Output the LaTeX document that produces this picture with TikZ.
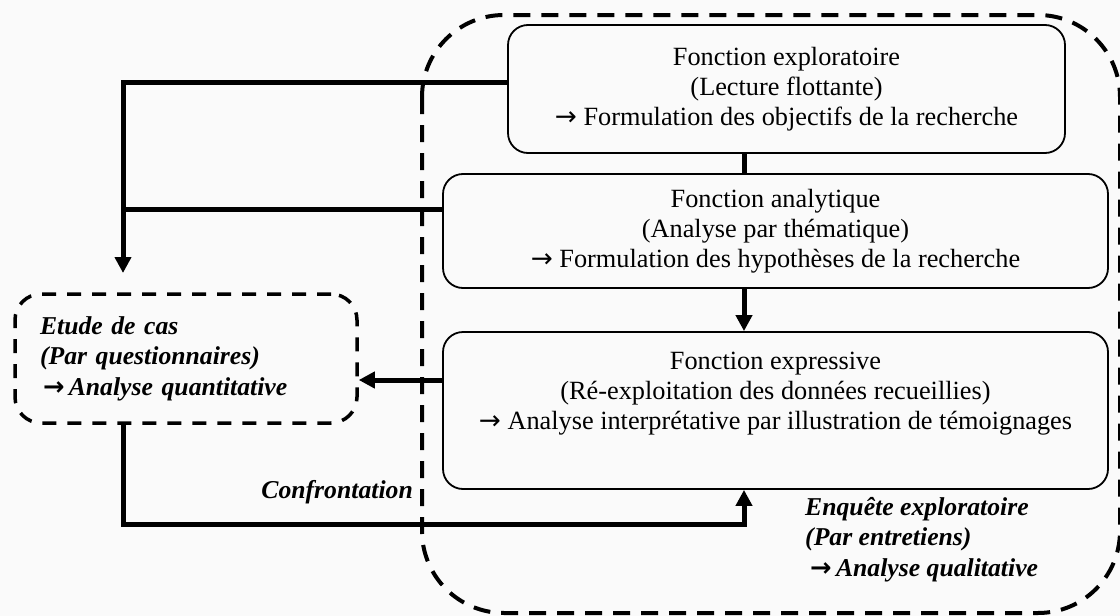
\documentclass[tikz,border=0pt]{standalone}
\usepackage{fontspec}
\setmainfont{Liberation Serif}
\newfontfamily\symfont{DejaVu Sans}
\newcommand{\rarr}{{\symfont →}}
\newcommand{\brarr}{{\symfont\bfseries\upshape →}}
\usetikzlibrary{arrows.meta}
\tikzset{
  txt/.style={font=\fontsize{26.3}{30}\selectfont},
  bitxt/.style={font=\fontsize{25.7}{30.5}\selectfont\bfseries\itshape},
  fbox/.style={txt, draw, line width=1.8pt, rounded corners=20pt, align=center, inner sep=0pt},
  cbox/.style={bitxt, draw, line width=3.5pt, dash pattern=on 14pt off 11pt, rounded corners=26pt,
     align=left, inner xsep=25pt, inner ysep=0pt, text width=292pt, minimum width=342pt, minimum height=129pt},
  bigdash/.style={draw, line width=4pt, dash pattern=on 17pt off 11pt},
  conn/.style={line width=5pt, line join=miter},
  arr/.style={conn, -{Triangle[width=16pt,length=16pt]}},
}
\begin{document}
\begin{tikzpicture}[x=1pt,y=-1pt]
\useasboundingbox (0,0) rectangle (1120,616);
\fill[fill={rgb,255:red,250;green,250;blue,250}] (0,0) rectangle (1120,616);
\begin{scope}
\clip (0,0) rectangle (1120,616);
\draw[bigdash, rounded corners=82pt] (422,15) rectangle (1120,613);
\end{scope}

\node[fbox, minimum width=557pt, minimum height=128pt] (explo) at (786.5,89)
  {Fonction exploratoire\\(Lecture flottante)\\\rarr{} Formulation des objectifs de la recherche};
\node[fbox, minimum width=665pt, minimum height=114pt] (ana) at (775.5,231)
  {Fonction analytique\\(Analyse par thématique)\\\rarr{} Formulation des hypothèses de la recherche};
\node[fbox, minimum width=665pt, minimum height=157pt] (expr) at (775.5,410.5)
  {Fonction expressive\\(Ré-exploitation des données recueillies)\\\rarr{} Analyse interprétative par illustration de témoignages\\\strut};
\node[cbox] (etude) at (186,358.5)
  {Etude de cas\\(Par questionnaires)\\\hspace{3pt}\brarr\,Analyse quantitative};

\node[bitxt, anchor=east, inner sep=0pt] (confr) at (413,492) {Confrontation};
\node[bitxt, anchor=north west, align=left, inner sep=0pt] (enq) at (805,497)
  {Enquête exploratoire\\(Par entretiens)\\\hspace{5pt}\brarr\,Analyse qualitative};

\coordinate (tipE) at (123,273);
\coordinate (lowL) at (123,524);
\coordinate (lowR) at (744,524);

\draw[arr] ([yshift=7pt]explo.west) -| (tipE);
\draw[conn] ([yshift=22pt]ana.west) -- ([yshift=22pt]ana.west -| tipE);
\draw[conn] (explo.south -| lowR) -- (ana.north -| lowR);
\draw[arr] (ana.south -| lowR) -- (expr.north -| lowR);
\draw[arr] ([yshift=30.5pt]expr.west) -- ([yshift=30.5pt]expr.west -| etude.east);
\draw[arr] (etude.south -| lowL) -- (lowL) -- (lowR) -- (expr.south -| lowR);
\end{tikzpicture}
\end{document}
